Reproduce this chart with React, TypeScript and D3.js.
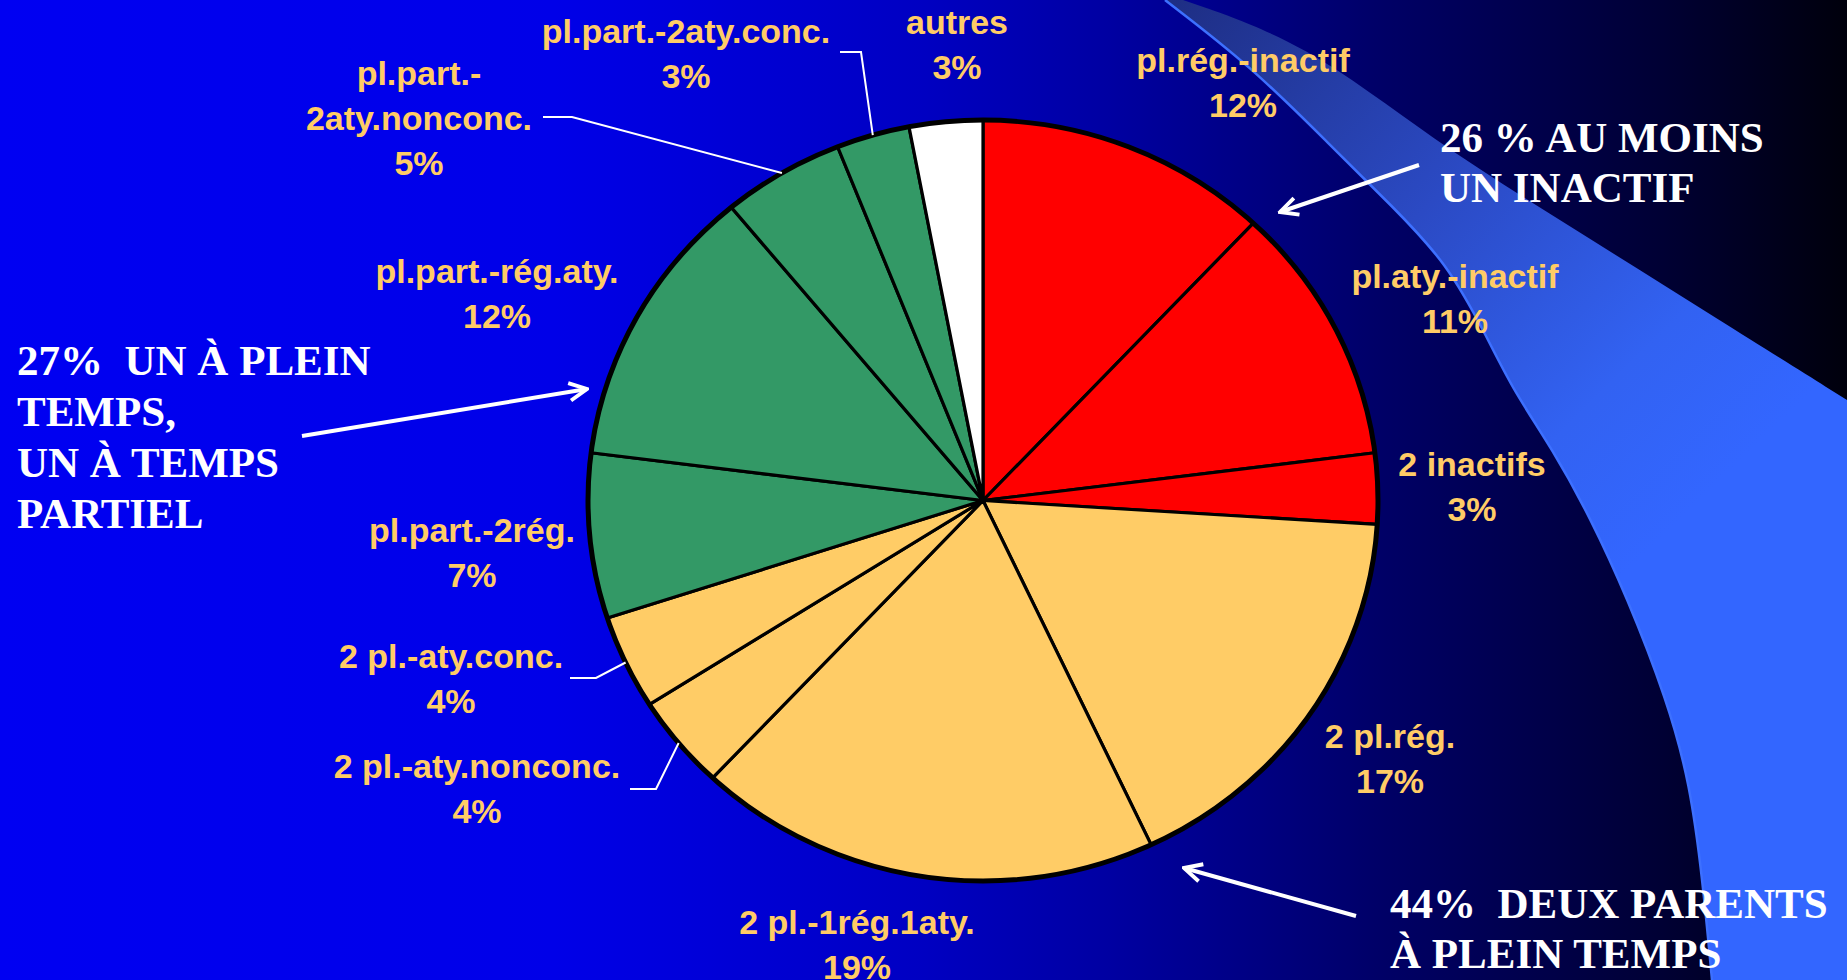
import React from 'react';
import * as d3 from 'd3';

// ---------- data ----------
const categories = [
  'pl.rég.-inactif',
  'pl.aty.-inactif',
  '2 inactifs',
  '2 pl.rég.',
  '2 pl.-1rég.1aty.',
  '2 pl.-aty.nonconc.',
  '2 pl.-aty.conc.',
  'pl.part.-2rég.',
  'pl.part.-rég.aty.',
  'pl.part.-2aty.nonconc.',
  'pl.part.-2aty.conc.',
  'autres',
];
const values = [12, 11, 3, 17, 19, 4, 4, 7, 12, 5, 3, 3];
const groups = [
  'inactif', 'inactif', 'inactif',
  'plein', 'plein', 'plein', 'plein',
  'partiel', 'partiel', 'partiel', 'partiel',
  'autres',
];
const groupColors: Record<string, string> = {
  inactif: '#FF0000',
  plein: '#FFCC66',
  partiel: '#339966',
  autres: '#FFFFFF',
};
// label text lines (category split for display)
const labelLines = [
  ['pl.rég.-inactif'],
  ['pl.aty.-inactif'],
  ['2 inactifs'],
  ['2 pl.rég.'],
  ['2 pl.-1rég.1aty.'],
  ['2 pl.-aty.nonconc.'],
  ['2 pl.-aty.conc.'],
  ['pl.part.-2rég.'],
  ['pl.part.-rég.aty.'],
  ['pl.part.-', '2aty.nonconc.'],
  ['pl.part.-2aty.conc.'],
  ['autres'],
];
const annotations = [
  { lines: ['26 % AU MOINS', 'UN INACTIF'] },
  { lines: ['27%  UN À PLEIN', 'TEMPS,', 'UN À TEMPS', 'PARTIEL'] },
  { lines: ['44%  DEUX PARENTS', 'À PLEIN TEMPS'] },
];

// ---------- layout ----------
const W = 1847;
const H = 980;
const cx = 983;
const cy = 500.5;
const rx = 395;
const ry = 380.5;
const labelFont = 34;

const labelLayout = [
  { x: 1243, y: 72, gap: 45 },
  { x: 1455, y: 288, gap: 45 },
  { x: 1472, y: 476, gap: 45 },
  { x: 1390, y: 748, gap: 45 },
  { x: 857, y: 934, gap: 45 },
  { x: 477, y: 778, gap: 45 },
  { x: 451, y: 668, gap: 45 },
  { x: 472, y: 542, gap: 45 },
  { x: 497, y: 283, gap: 45 },
  { x: 419, y: 85, gap: 45 },
  { x: 686, y: 43, gap: 45 },
  { x: 957, y: 34, gap: 45 },
];
const leaders = [
  { index: 9, x0: 543, x1: 572, y: 117 },
  { index: 10, x0: 840, x1: 861, y: 52 },
  { index: 6, x0: 570, x1: 596, y: 678 },
  { index: 5, x0: 630, x1: 656, y: 789 },
];
const annotationLayout = [
  { x: 1440, y: 152, gap: 50, arrow: [1419, 165, 1280, 212] },
  { x: 17, y: 375, gap: 51, arrow: [302, 436, 587, 389] },
  { x: 1390, y: 918, gap: 50, arrow: [1356, 916, 1184, 868] },
];
// decorative swoosh outline
const swooshLeft: [number, number][] = [
  [1165, 0], [1252, 67], [1330, 145], [1393, 207], [1447, 263], [1487, 337],
  [1513, 390], [1553, 450], [1590, 517], [1627, 597], [1667, 700], [1690, 783],
  [1703, 883], [1712, 980],
];
const swooshRight: [number, number][] = [
  [1183, 0], [1305, 42], [1432, 140], [1576, 230], [1719, 320], [1847, 400],
];

export default function App() {
  const pieData = d3.pie<number>().sort(null).value((d) => d).startAngle(0).endAngle(2 * Math.PI)(values);
  const arcGen = d3.arc<d3.PieArcDatum<number>>().innerRadius(0).outerRadius(rx);
  const sy = ry / rx;

  const edgePoint = (i: number) => {
    const a = (pieData[i].startAngle + pieData[i].endAngle) / 2;
    return [cx + rx * Math.sin(a), cy - ry * Math.cos(a)];
  };

  const leftPath = d3.line().curve(d3.curveBasis)(swooshLeft) as string;
  const rightRev = [...swooshRight].reverse();
  const rightPath = d3.line().curve(d3.curveBasis)(rightRev) as string;
  const bandPath =
    leftPath +
    ` L${W},${H} L${W},${swooshRight[swooshRight.length - 1][1]} ` +
    rightPath.replace(/^M/, 'L') +
    ' Z';

  return (
    <svg
      width={W}
      height={H}
      style={{ position: 'fixed', left: 0, top: 0, display: 'block' }}
      xmlns="http://www.w3.org/2000/svg"
    >
      <defs>
        <linearGradient id="bg" x1="0" y1="0" x2="1" y2="0">
          <stop offset="0" stopColor="#0000F2" />
          <stop offset="0.3" stopColor="#0000E8" />
          <stop offset="0.5" stopColor="#0000C2" />
          <stop offset="0.6" stopColor="#0000A2" />
          <stop offset="0.75" stopColor="#000066" />
          <stop offset="0.9" stopColor="#000034" />
          <stop offset="1" stopColor="#00000C" />
        </linearGradient>
        <linearGradient id="band" gradientUnits="userSpaceOnUse" x1="1170" y1="0" x2="1680" y2="520">
          <stop offset="0" stopColor="#1E2E84" />
          <stop offset="0.45" stopColor="#2B4AC4" />
          <stop offset="0.8" stopColor="#3262F2" />
          <stop offset="1" stopColor="#3366FF" />
        </linearGradient>
        <marker
          id="head"
          viewBox="0 0 20 20"
          refX="18"
          refY="10"
          markerWidth="22"
          markerHeight="22"
          markerUnits="userSpaceOnUse"
          orient="auto"
        >
          <path d="M2,2 L18,10 L2,18" fill="none" stroke="#FFFFFF" strokeWidth="3.5" />
        </marker>
      </defs>

      <rect x={0} y={0} width={W} height={H} fill="url(#bg)" />
      <path d={bandPath} fill="url(#band)" />
      <path d={leftPath} fill="none" stroke="#3D70FF" strokeWidth={2.5} />

      <g transform={`translate(${cx},${cy}) scale(1,${sy})`}>
        {pieData.map((d, i) => (
          <path
            key={categories[i]}
            d={arcGen(d) as string}
            fill={groupColors[groups[i]]}
            stroke="#000"
            strokeWidth={3.2}
            strokeLinejoin="round"
          />
        ))}
        <circle r={rx} fill="none" stroke="#000" strokeWidth={5} />
      </g>

      {leaders.map((l) => {
        const [ex, ey] = edgePoint(l.index);
        return (
          <polyline
            key={l.index}
            points={`${l.x0},${l.y} ${l.x1},${l.y} ${ex},${ey}`}
            fill="none"
            stroke="#FFFFFF"
            strokeWidth={2}
          />
        );
      })}

      {labelLines.map((lines, i) => {
        const L = labelLayout[i];
        const all = [...lines, `${values[i]}%`];
        return (
          <text
            key={categories[i]}
            fontFamily="'Liberation Sans', Arial, sans-serif"
            fontWeight="bold"
            fontSize={labelFont}
            fill="#FFCC66"
            textAnchor="middle"
          >
            {all.map((t, k) => (
              <tspan key={k} x={L.x} y={L.y + k * L.gap}>
                {t}
              </tspan>
            ))}
          </text>
        );
      })}

      {annotations.map((a, i) => {
        const L = annotationLayout[i];
        const [x1, y1, x2, y2] = L.arrow;
        return (
          <g key={i}>
            <line x1={x1} y1={y1} x2={x2} y2={y2} stroke="#FFFFFF" strokeWidth={4} markerEnd="url(#head)" />
            <text
              fontFamily="'Liberation Serif', 'Times New Roman', serif"
              fontWeight="bold"
              fontSize={43}
              fill="#FFFFFF"
              style={{ whiteSpace: 'pre' }}
            >
              {a.lines.map((t, k) => (
                <tspan key={k} x={L.x} y={L.y + k * L.gap}>
                  {t}
                </tspan>
              ))}
            </text>
          </g>
        );
      })}
    </svg>
  );
}
